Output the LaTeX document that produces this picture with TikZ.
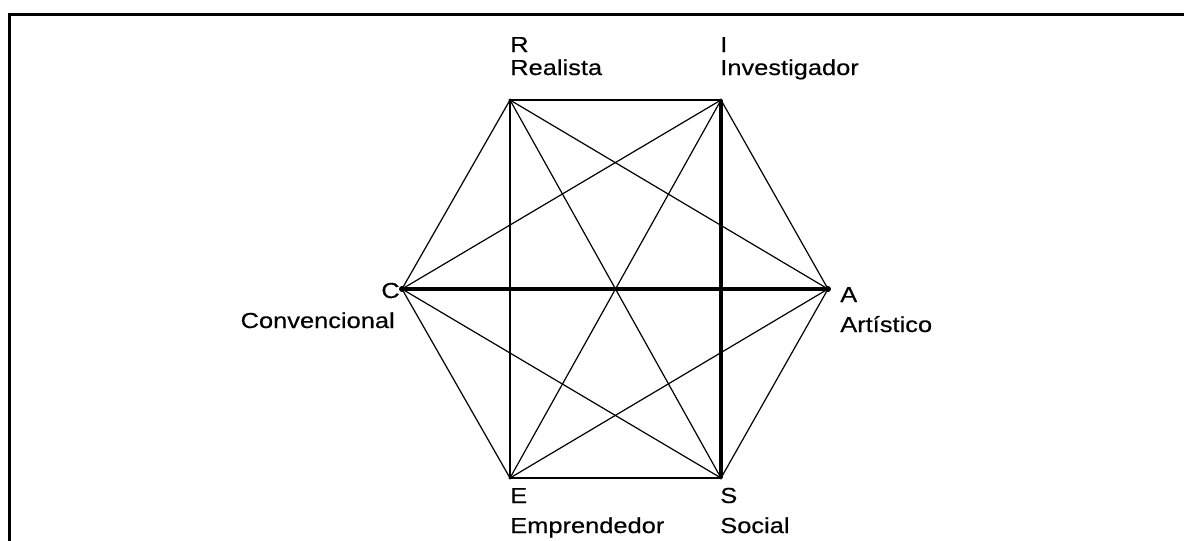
\documentclass[tikz,border=0pt]{standalone}
\usepackage{fontspec}
\setmainfont{Liberation Sans}[FakeStretch=1.17,FakeBold=0.4]
\begin{document}
\begin{tikzpicture}[x=0.75pt,y=-0.75pt,
  vtx/.style={circle,fill=black,inner sep=0pt,minimum size=2.5pt},
  bigvtx/.style={circle,fill=black,inner sep=0pt,minimum size=4.5pt},
  thin/.style={line width=0.9pt},
  thick2/.style={line width=2.4pt},
  lbl/.style={inner sep=0pt,font=\fontsize{16.3pt}{19pt}\selectfont},
  framebox/.style={line width=2.4pt}]
\useasboundingbox (0,0) rectangle (1184,540);
\fill[white] (0,0) rectangle (1184,540);
\draw[framebox] (9.5,14.5) rectangle (1220,580);
\node[vtx] (R) at (510,100) {};
\node[vtx] (I) at (721,100) {};
\node[bigvtx] (A) at (828,289) {};
\node[vtx] (S) at (721,478) {};
\node[vtx] (E) at (510,478) {};
\node[bigvtx] (C) at (402,289) {};
% hexagon sides
\draw[thin] (R.center) -- (I.center);
\draw[thin] (I.center) -- (A.center);
\draw[thin] (A.center) -- (S.center);
\draw[thin] (S.center) -- (E.center);
\draw[thin] (E.center) -- (C.center);
\draw[thin] (C.center) -- (R.center);
% diagonals
\draw[thin] (R.center) -- (A.center);
\draw[thin] (R.center) -- (S.center);
\draw[thin] (R.center) -- (E.center);
\draw[thin] (I.center) -- (C.center);
\draw[thin] (I.center) -- (E.center);
\draw[thin] (C.center) -- (S.center);
\draw[thin] (E.center) -- (A.center);
\draw[thick2] (I.center) -- (S.center);
\draw[thick2] (C.center) -- (A.center);
% labels
\node[lbl,anchor=base west] (lR1) at (510,52) {R};
\node[lbl,anchor=base west] (lR2) at (510,75) {Realista};
\node[lbl,anchor=base west] (lI1) at (720,52) {I};
\node[lbl,anchor=base west] (lI2) at (720,75) {Investigador};
\node[lbl,anchor=base east] (lC1) at (400,298) {C};
\node[lbl,anchor=base east] (lC2) at (395,328) {Convencional};
\node[lbl,anchor=base west] (lA1) at (840,302) {A};
\node[lbl,anchor=base west] (lA2) at (840,332) {Artístico};
\node[lbl,anchor=base west] (lE1) at (510,503) {E};
\node[lbl,anchor=base west] (lE2) at (510,533) {Emprendedor};
\node[lbl,anchor=base west] (lS1) at (720,503) {S};
\node[lbl,anchor=base west] (lS2) at (720,533) {Social};
\end{tikzpicture}
\end{document}
